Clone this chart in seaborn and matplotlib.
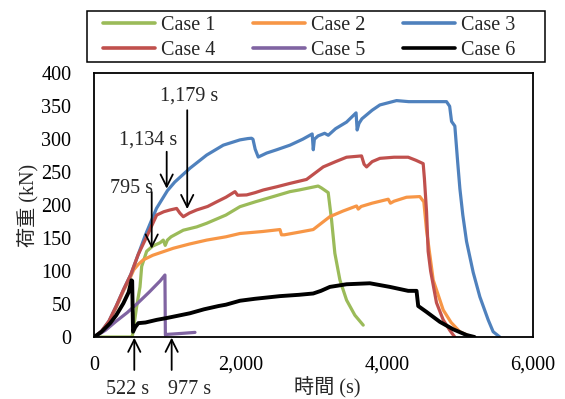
import numpy as np
import pandas as pd
import matplotlib
matplotlib.use('Agg')
import matplotlib.pyplot as plt
import seaborn as sns
from matplotlib.ticker import FuncFormatter
from matplotlib.patches import Rectangle

case_names = ['Case 1', 'Case 2', 'Case 3', 'Case 4', 'Case 5', 'Case 6']
case_colors = ['#9BBB59', '#F79646', '#4F81BD', '#C0504D', '#8064A2', '#000000']

t_case1 = [0, 500, 522, 579, 625, 648, 716, 800, 900, 943, 970, 1000, 1050, 1217,
           1400, 1537, 1800, 1992, 2200, 2447, 2676, 2800, 3062, 3108, 3199, 3245,
           3290, 3359, 3450, 3564, 3678]
load_case1 = [0, 0, 2, 46, 76, 107, 130, 138, 143, 147, 139, 147, 152, 162,
              167, 172.5, 185, 197.7, 205, 213, 220.5, 223, 229, 226, 219, 177.5,
              127, 86.5, 56, 33, 18]

t_case2 = [0, 100, 200, 300, 400, 500, 511, 540, 600, 670, 800, 1080, 1300, 1537,
           1800, 1992, 2300, 2539, 2560, 2600, 2800, 2994, 3222, 3400, 3587, 3610,
           3650, 3800, 4020, 4050, 4100, 4270, 4452, 4507, 4544, 4635, 4772, 4880,
           5000, 5159]
load_case2 = [0, 8, 22, 45, 70, 92, 95, 102, 110, 117, 124, 134.6, 141, 147,
              152, 157, 160, 163, 155, 155, 159, 163, 182.6, 191, 198.8, 194,
              198, 203, 209, 203, 206, 212, 213, 205, 162, 86.5, 41, 22,
              8, 0]

t_case3 = [0, 100, 200, 300, 400, 500, 600, 700, 850, 1000, 1100, 1308, 1537, 1764,
           1992, 2100, 2150, 2170, 2200, 2242, 2300, 2357, 2494, 2676, 2850, 2980,
           2995, 3010, 3060, 3150, 3200, 3300, 3450, 3580, 3595, 3620, 3660, 3800,
           3906, 4134, 4300, 4500, 4817, 4860, 4886, 4931, 4970, 5000, 5040, 5091,
           5182, 5273, 5387, 5455, 5546]
load_case3 = [0, 9, 24, 47, 72, 95, 125, 155, 195, 222, 235, 256, 276, 291,
              299, 301, 301.5, 300, 285, 273, 276, 279, 284, 291, 300, 308,
              284, 300, 305, 309, 306, 316, 326, 340, 314, 324, 331, 344,
              352, 358.6, 357, 357, 357, 350, 327, 320, 265, 225, 185, 145,
              98, 61, 26, 8, 0]

t_case4 = [0, 100, 200, 300, 400, 500, 600, 716, 853, 950, 1035, 1126, 1170, 1217,
           1300, 1400, 1550, 1673, 1800, 1924, 1960, 2083, 2200, 2311, 2500, 2676,
           2903, 3131, 3300, 3450, 3655, 3690, 3724, 3800, 3906, 4100, 4293, 4400,
           4498, 4515, 4544, 4566, 4600, 4680, 4772, 4863, 4930]
load_case4 = [0, 9, 24, 47, 72, 95, 125, 152, 185, 190, 192.7, 195, 188, 182.5,
              188, 192.7, 198, 205, 212, 220.5, 215, 215.5, 219, 223, 228, 233,
              239, 258, 266, 272.7, 274.7, 262, 258, 266, 271, 272.7, 272.7, 268,
              263, 240, 190, 130, 100, 52, 26, 10, 0]

t_case5 = [0, 150, 300, 450, 600, 750, 900, 966, 972, 1000, 1200, 1377]
load_case5 = [0, 10, 24, 37, 52, 68, 85, 94, 3, 4, 5.5, 7]

t_case6 = [0, 100, 215, 300, 397, 470, 509, 518, 530, 560, 602, 700, 853, 1000,
           1308, 1500, 1700, 1800, 1992, 2200, 2539, 2800, 2994, 3100, 3222, 3450,
           3769, 4042, 4293, 4407, 4430, 4544, 4726, 4908, 5091, 5200]
load_case6 = [0, 8, 20.7, 33, 51, 68, 86, 85, 8, 15, 21, 22, 26, 29,
              36, 42, 47, 49, 55, 58, 62, 64, 66, 70, 76, 80,
              81.5, 76, 70, 70, 47, 38, 23, 11.7, 3, 0]

times = [t_case1, t_case2, t_case3, t_case4, t_case5, t_case6]
loads = [load_case1, load_case2, load_case3, load_case4, load_case5, load_case6]

x_ticks = [0, 2000, 4000, 6000]
y_ticks = list(range(0, 401, 50))

# annotations: (label, arrow tail (t, L), arrow tip (t, L), text position (t, L))
annotations = [
    ('1,179 s', (1271, 344), (1271, 194), (1295, 365)),
    ('1,134 s', (990, 281), (990, 225), (734, 299)),
    ('795 s', (785, 220), (785, 134), (502, 226)),
    ('522 s', (547, -50), (547, -1), (461, -80)),
    ('977 s', (1058, -50), (1058, -1), (1308, -80)),
]

frames = []
for name, t, l in zip(case_names, times, loads):
    frames.append(pd.DataFrame({'time': t, 'load': l, 'case': name}))
df = pd.concat(frames, ignore_index=True)

sns.set_style('white')
plt.rcParams['font.family'] = ['Liberation Serif', 'Noto Sans CJK JP']
plt.rcParams['font.size'] = 14.5

fig = plt.figure(figsize=(5.65, 3.99), dpi=100)
ax = fig.add_axes([94.3 / 565, 1 - 337 / 399, (533 - 94.3) / 565, (337 - 73.3) / 399])

handles = []
for name, col in zip(case_names, case_colors):
    sub = df[df['case'] == name]
    lw = 2.8 if name == 'Case 6' else 2.3
    sns.lineplot(data=sub, x='time', y='load', color=col, linewidth=lw,
                 sort=False, estimator=None, ax=ax, label=name, legend=False)
    handles.append(ax.lines[-1])

ax.set_xlim(0, 6000)
ax.set_ylim(0, 400)
ax.set_xticks(x_ticks)
ax.set_yticks(y_ticks)
ax.xaxis.set_major_formatter(FuncFormatter(lambda v, p: f'{int(v):,}'))
ax.tick_params(axis='both', direction='in', length=4.2, width=1.1, color='black',
               labelcolor='black', labelsize=14.5)
ax.tick_params(axis='x', pad=13.5)
ax.tick_params(axis='y', pad=16.5)
for s in ax.spines.values():
    s.set_visible(True)
    s.set_color('black')
    s.set_linewidth(1.3)

ax.set_xlabel('時間 (s)', fontsize=14.5)
ax.xaxis.set_label_coords(0.53, -0.15)
ax.set_ylabel('荷重 (kN)', fontsize=14.5, labelpad=1)

for label, tail, tip, tpos in annotations:
    ax.annotate('', xy=tip, xytext=tail, annotation_clip=False,
                arrowprops=dict(arrowstyle='->', lw=1.3, color='black',
                                mutation_scale=22, shrinkA=0, shrinkB=0))
    ax.text(tpos[0], tpos[1], label, ha='center', va='center', fontsize=14.5,
            clip_on=False)

order = [0, 3, 1, 4, 2, 5]
leg = fig.legend([handles[i] for i in order], [case_names[i] for i in order],
                 ncol=3, loc='upper left',
                 bbox_to_anchor=(103 / 565, 1 - 16 / 399),
                 borderaxespad=0, frameon=False, borderpad=0,
                 handlelength=2.6, handletextpad=0.3,
                 labelspacing=0.28, fontsize=14.5, columnspacing=1.85)
for lh in leg.get_lines():
    lh.set_linewidth(2.6)

fig.patches.append(Rectangle((87 / 565, 1 - 62 / 399), (545 - 87) / 565, 51 / 399,
                             transform=fig.transFigure, fill=False,
                             edgecolor='black', linewidth=1.1))

fig.savefig('out.png', dpi=100)
